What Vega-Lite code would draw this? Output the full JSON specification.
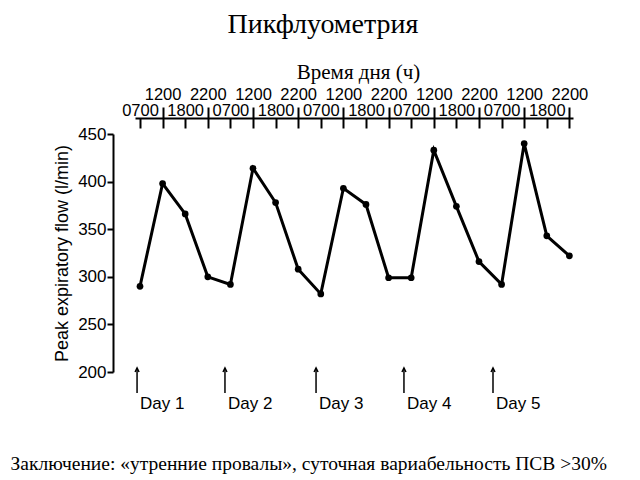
{
  "$schema": "https://vega.github.io/schema/vega-lite/v6.json",
  "width": 438,
  "height": 238,
  "autosize": "none",
  "padding": {"left": 135, "top": 134, "right": 67, "bottom": 108},
  "background": "white",
  "config": {
    "view": {"stroke": null},
    "axis": {"grid": false, "domainColor": "black", "tickColor": "black", "labelColor": "black", "titleColor": "black"},
    "axisTop": {"titleFont": "Liberation Serif", "titleFontWeight": "normal"},
    "axisBottom": {"titleFont": "Liberation Serif", "titleFontWeight": "normal"}
  },
  "title": {
    "text": "Пикфлуометрия",
    "font": "Liberation Serif",
    "fontSize": 28,
    "fontWeight": "normal",
    "color": "black",
    "anchor": "middle",
    "dx": -31,
    "offset": 22
  },
  "datasets": {
    "pef": [
      {"i": 0, "time": "0700", "flow": 290},
      {"i": 1, "time": "1200", "flow": 398},
      {"i": 2, "time": "1800", "flow": 366},
      {"i": 3, "time": "2200", "flow": 300},
      {"i": 4, "time": "0700", "flow": 292},
      {"i": 5, "time": "1200", "flow": 414},
      {"i": 6, "time": "1800", "flow": 378},
      {"i": 7, "time": "2200", "flow": 308},
      {"i": 8, "time": "0700", "flow": 282},
      {"i": 9, "time": "1200", "flow": 393},
      {"i": 10, "time": "1800", "flow": 376},
      {"i": 11, "time": "2200", "flow": 299},
      {"i": 12, "time": "0700", "flow": 299},
      {"i": 13, "time": "1200", "flow": 433},
      {"i": 14, "time": "1800", "flow": 374},
      {"i": 15, "time": "2200", "flow": 316},
      {"i": 16, "time": "0700", "flow": 292},
      {"i": 17, "time": "1200", "flow": 440},
      {"i": 18, "time": "1800", "flow": 343},
      {"i": 19, "time": "2200", "flow": 322}
    ],
    "days": [
      {"day": "Day 1", "pos": -0.13},
      {"day": "Day 2", "pos": 3.76},
      {"day": "Day 3", "pos": 7.79},
      {"day": "Day 4", "pos": 11.68},
      {"day": "Day 5", "pos": 15.62}
    ]
  },
  "resolve": {"axis": {"x": "independent", "y": "independent"}},
  "layer": [
    {
      "data": {"name": "pef"},
      "mark": {"type": "line", "color": "black", "strokeWidth": 3},
      "encoding": {
        "x": {
          "field": "i", "type": "quantitative",
          "scale": {"domain": [-0.221, 19.16], "nice": false, "zero": false},
          "axis": {
            "orient": "top", "offset": 16, "title": "Время дня (ч)",
            "values": [0,1,2,3,4,5,6,7,8,9,10,11,12,13,14,15,16,17,18,19],
            "labelExpr": "['0700','1200','1800','2200'][datum.value % 4]",
            "labelFont": "Liberation Sans", "labelFontSize": 16.5,
            "labelBaseline": "alphabetic", "labelAngle": 0,
            "labelPadding": {"condition": {"test": "datum.value % 2 == 1", "value": 29}, "value": 13},
            "labelOverlap": false, "labelFlush": false,
            "tickSize": -10, "tickWidth": 2, "domainWidth": 2,
            "titleFont": "Liberation Serif", "titleFontSize": 21, "titleFontWeight": "normal",
            "titleBaseline": "alphabetic", "titleAlign": "center", "titleX": 223, "titleY": -40
          }
        },
        "y": {
          "field": "flow", "type": "quantitative",
          "scale": {"domain": [200, 450], "nice": false, "zero": false},
          "axis": {
            "orient": "left", "offset": 22, "title": "Peak expiratory flow (l/min)",
            "values": [200, 250, 300, 350, 400, 450],
            "labelFont": "Liberation Sans", "labelFontSize": 17, "labelPadding": 1,
            "tickSize": 6, "tickWidth": 2, "domainWidth": 2,
            "titleFont": "Liberation Sans", "titleFontSize": 18, "titleFontWeight": "normal",
            "titlePadding": 6
          }
        }
      }
    },
    {
      "data": {"name": "pef"},
      "mark": {"type": "point", "filled": true, "color": "black", "size": 45, "opacity": 1},
      "encoding": {
        "x": {
          "field": "i", "type": "quantitative",
          "axis": {
            "orient": "top", "offset": 16, "title": null,
            "values": [1,3,5,7,9,11,13,15,17,19],
            "labels": false, "domain": false,
            "tickSize": 11, "tickWidth": 2
          }
        },
        "y": {"field": "flow", "type": "quantitative", "axis": null}
      }
    },
    {
      "data": {"name": "days"},
      "mark": {"type": "rule", "color": "black", "strokeWidth": 1.5},
      "encoding": {
        "x": {"field": "pos", "type": "quantitative", "axis": null},
        "y": {"datum": 177.9, "type": "quantitative", "axis": null},
        "y2": {"datum": 204.2}
      }
    },
    {
      "data": {"name": "days"},
      "mark": {"type": "point", "shape": "M-1,2L0,0L1,2", "filled": false, "color": "black", "strokeWidth": 1.5, "size": 16, "opacity": 1},
      "encoding": {
        "x": {"field": "pos", "type": "quantitative", "axis": null},
        "y": {"datum": 204.2, "type": "quantitative", "axis": null}
      }
    },
    {
      "data": {"name": "days"},
      "mark": {"type": "text", "align": "left", "baseline": "alphabetic", "dx": 3, "font": "Liberation Sans", "fontSize": 17, "color": "black"},
      "encoding": {
        "x": {
          "field": "pos", "type": "quantitative",
          "axis": {
            "orient": "bottom", "values": [], "labels": false, "ticks": false, "domain": false,
            "title": "Заключение: «утренние провалы», суточная вариабельность ПСВ >30%",
            "titleFont": "Liberation Serif", "titleFontSize": 19.5, "titleFontWeight": "normal",
            "titleBaseline": "alphabetic", "titleAlign": "left", "titleX": -125, "titleY": 97
          }
        },
        "y": {"datum": 161, "type": "quantitative", "axis": null},
        "text": {"field": "day"}
      }
    }
  ]
}
